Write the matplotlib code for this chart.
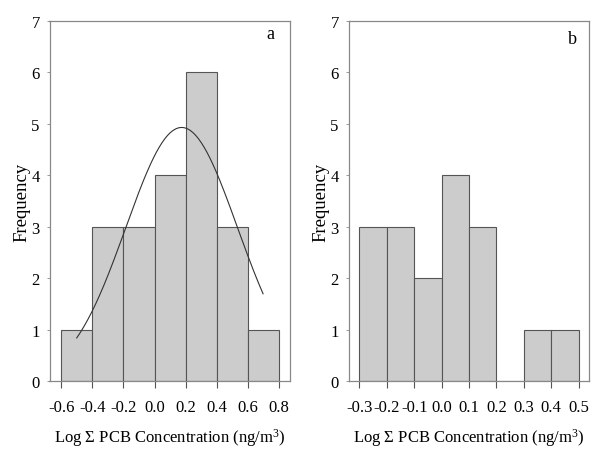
import numpy as np
import matplotlib
matplotlib.use("Agg")
import matplotlib.pyplot as plt

# panel a: bins of width 0.2
edges_a = [-0.6, -0.4, -0.2, 0.0, 0.2, 0.4, 0.6, 0.8]
counts_a = [1, 3, 3, 4, 6, 3, 1]
xticks_a = [-0.6, -0.4, -0.2, 0.0, 0.2, 0.4, 0.6, 0.8]

# fitted normal curve for panel a
fit_mean = 0.174
fit_sd = 0.358
fit_peak = 4.93
fit_range = (-0.5, 0.697)

# panel b: bins of width 0.1
edges_b = [-0.3, -0.2, -0.1, 0.0, 0.1, 0.2, 0.3, 0.4, 0.5]
counts_b = [3, 3, 2, 4, 3, 0, 1, 1]
xticks_b = [-0.3, -0.2, -0.1, 0.0, 0.1, 0.2, 0.3, 0.4, 0.5]

serif = 'Liberation Serif'
plt.rcParams['mathtext.fontset'] = 'custom'
plt.rcParams['mathtext.rm'] = serif
plt.rcParams['mathtext.it'] = serif + ':italic'

bar_fill = '#cccccc'
bar_edge = '#555555'
frame_col = '#888888'
tick_fs = 12
xlabel = u'Log \u03a3 PCB Concentration (ng/m$^{\\mathrm{3}}$)'

fig = plt.figure(figsize=(6.01, 4.56), dpi=100)
ax1 = fig.add_axes([49.5/601, 1 - 382/456, 240.5/601, 360/456])
ax2 = fig.add_axes([348.5/601, 1 - 382/456, 240.5/601, 360/456])


def draw_panel(ax, edges, counts, ticks, xlim, tag, tagpos):
    edges = np.array(edges)
    ax.bar(edges[:-1], counts, width=np.diff(edges), align='edge',
           color=bar_fill, edgecolor=bar_edge, linewidth=0.8)
    ax.set_xlim(*xlim)
    ax.set_ylim(0, 7)
    ax.set_xticks(ticks)
    ax.set_xticklabels(['%.1f' % t for t in ticks], fontfamily=serif, fontsize=tick_fs)
    ax.set_yticks(range(0, 8))
    ax.set_yticklabels([str(i) for i in range(8)], fontfamily=serif, fontsize=tick_fs)
    ax.tick_params(axis='x', direction='out', length=5, width=0.8, color=bar_edge, pad=8)
    ax.tick_params(axis='y', direction='out', length=2, width=0.6, color=frame_col, pad=5)
    for s in ax.spines.values():
        s.set_color(frame_col)
        s.set_linewidth(0.9)
    ax.set_xlabel(xlabel, fontfamily=serif, fontsize=12, labelpad=8)
    ax.set_ylabel('Frequency', fontfamily=serif, fontsize=13.5, labelpad=1)
    ax.text(tagpos[0], tagpos[1], tag, transform=ax.transAxes, fontfamily=serif,
            fontsize=13, ha='center', va='center')


draw_panel(ax1, edges_a, counts_a, xticks_a, (-0.675, 0.87), 'a', (0.917, 0.965))
draw_panel(ax2, edges_b, counts_b, xticks_b, (-0.34, 0.538), 'b', (0.932, 0.95))

xs = np.linspace(fit_range[0], fit_range[1], 200)
ys = fit_peak * np.exp(-0.5 * ((xs - fit_mean) / fit_sd) ** 2)
ax1.plot(xs, ys, color='#333333', linewidth=0.8)

fig.savefig('out.png', dpi=100)
